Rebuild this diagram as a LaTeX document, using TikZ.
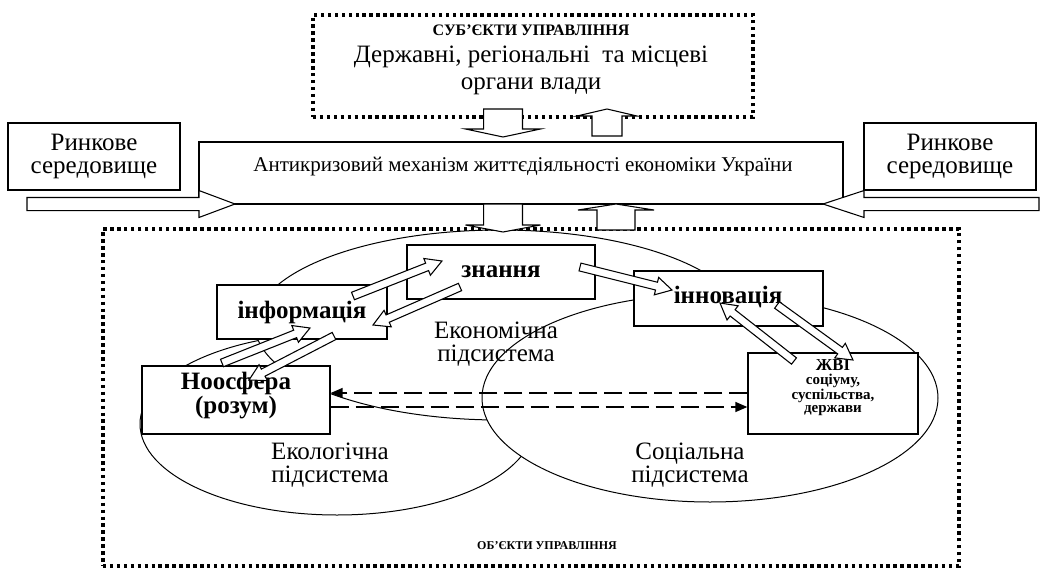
\documentclass[tikz,border=0pt]{standalone}
\usepackage{fontspec}
\setmainfont{Liberation Serif}
\usetikzlibrary{calc,arrows.meta}

% hollow block arrow: #1 tail, #2 tip, #3 shaft half-width, #4 head half-width, #5 head length
\newcommand{\blockarrow}[5]{%
  \coordinate (ba) at ($(#2)!#5!(#1)$);
  \draw[hollowarrow] ($(#1)!#3!90:(#2)$) -- ($(ba)!#3!-90:(#1)$) -- ($(ba)!#4!-90:(#1)$)
    -- (#2) -- ($(ba)!#4!90:(#1)$) -- ($(ba)!#3!90:(#1)$) -- ($(#1)!#3!-90:(#2)$) -- cycle;
}

\tikzset{
  box/.style={draw, line width=1pt, fill=white, rectangle, inner sep=0pt},
  dotframe/.style={draw, line width=2.6pt, dash pattern=on 2.6pt off 2.6pt, rectangle, inner sep=0pt},
  sphere/.style={draw, line width=0.75pt, fill=white},
  hollowarrow/.style={line width=0.8pt, fill=white, draw, line join=miter},
  dasharrow/.style={line width=1.1pt, dash pattern=on 13.5pt off 5.25pt,
    -{Triangle[length=9pt,width=7.5pt]}},
  capsbold/.style={font=\bfseries\fontsize{12}{14}\selectfont, inner sep=0pt},
  toptext/.style={font=\fontsize{18.75}{20.25}\selectfont, align=center, inner sep=0pt},
  midtext/.style={font=\fontsize{15.75}{18}\selectfont, inner sep=0pt},
  market/.style={font=\fontsize{18.75}{17.25}\selectfont, align=center, inner sep=0pt},
  word/.style={font=\bfseries\fontsize{18.75}{18}\selectfont, align=center, inner sep=0pt},
  sublabel/.style={font=\fontsize{18.75}{17.25}\selectfont, align=center, inner sep=0pt},
  smallbold/.style={font=\bfseries\fontsize{11.25}{10.1}\selectfont, align=center, inner sep=0pt}
}

\begin{document}
\begin{tikzpicture}[x=0.75pt, y=-0.75pt]
\useasboundingbox (0,0) rectangle (1040,568);
\fill[white] (0,0) rectangle (1040,568);

% the three subsystems
\draw[sphere] (337,424) ellipse [x radius=197, y radius=91];
\draw[sphere] (500,325) ellipse [x radius=245, y radius=95];
\draw[sphere] (710,398) ellipse [x radius=228, y radius=104];

% frames of the subjects and the objects of management
\node[dotframe, minimum width=642pt, minimum height=252.75pt] (objects) at (531,397.5) {};
\node[dotframe, minimum width=330pt, minimum height=76.5pt] (subjects) at (533,66) {};
\node[capsbold] (subjtitle) at (531,30) {СУБ’ЄКТИ УПРАВЛІННЯ};
\node[toptext] (subjtext) at (531,70) {Державні, регіональні\ \ та місцеві\\органи влади};

% market environment and the anti-crisis mechanism
\node[box, minimum width=129pt, minimum height=50.25pt] (marketL) at (94,156.5) {};
\node[market] (marketLtext) at (94,156) {Ринкове\\середовище};
\node[box, minimum width=129pt, minimum height=50.25pt] (marketR) at (950,156.5) {};
\node[market] (marketRtext) at (950,156) {Ринкове\\середовище};
\node[box, minimum width=483pt, minimum height=46.5pt] (mech) at (521,173) {};
\node[midtext] (mechtext) at (523,167) {Антикризовий механізм життєдіяльності економіки України};

% elements inside the subsystems
\node[box, minimum width=141pt, minimum height=40.5pt] (know) at (501,272) {};
\node[word] (knowtext) at (501,272) {знання};
\node[box, minimum width=127.5pt, minimum height=40.5pt] (info) at (302,312) {};
\node[word] (infotext) at (302,312) {інформація};
\node[box, minimum width=141.75pt, minimum height=41.25pt] (innov) at (728.5,298.5) {};
\node[word] (innovtext) at (728,297) {інновація};
\node[box, minimum width=141pt, minimum height=51pt] (noos) at (236,400) {};
\node[word] (noostext) at (236,396) {Ноосфера\\(розум)};
\node[box, minimum width=127.5pt, minimum height=60.75pt] (zhvi) at (833,393.5) {};
\node[smallbold] (zhvitext) at (833,388) {{\fontsize{12.5}{13}\selectfont ЖВІ}\\соціуму,\\суспільства,\\держави};

% subsystem labels
\node[sublabel] (econlabel) at (496,344) {Економічна\\підсистема};
\node[sublabel] (ecolabel) at (330,465) {Екологічна\\підсистема};
\node[sublabel] (soclabel) at (690,465) {Соціальна\\підсистема};
\node[capsbold, font=\bfseries\fontsize{9}{11}\selectfont] (objtitle) at (547,546) {ОБ’ЄКТИ УПРАВЛІННЯ};

% feedback between the noosphere and the vital activity of society
\coordinate (zup) at ($(zhvi.west)+(0,-0.5)$);
\draw[dasharrow] (zup) -- (zup -| noos.east);
\coordinate (nlow) at ($(noos.east)+(0,7)$);
\draw[dasharrow] (nlow) -- (nlow -| zhvi.west);

% vertical flows
\coordinate (d1t) at (503,109);  \coordinate (d1h) at (503,137);
\coordinate (u1t) at (607,136);  \coordinate (u1h) at (607,109);
\coordinate (d2t) at (503,204);  \coordinate (d2h) at (503,232);
\coordinate (u2t) at (616,230);  \coordinate (u2h) at (616,204);
\blockarrow{d1t}{d1h}{14.6pt}{28.1pt}{6pt}
\blockarrow{u1t}{u1h}{11.25pt}{22.5pt}{5.25pt}
\blockarrow{d2t}{d2h}{14.6pt}{28.1pt}{5.25pt}
\blockarrow{u2t}{u2h}{14.25pt}{28.5pt}{4.5pt}

% market pressure
\coordinate (lt) at (27,204);   \coordinate (lh) at (235,204);
\coordinate (rt) at (1039,204); \coordinate (rh) at (823,204);
\blockarrow{lt}{lh}{4.9pt}{10.1pt}{27pt}
\blockarrow{rt}{rh}{4.9pt}{10.1pt}{30.75pt}

% links between the elements
\coordinate (a1t) at (353,296); \coordinate (a1h) at (442,261);
\coordinate (a2t) at (460,287); \coordinate (a2h) at (373,325);
\coordinate (a3t) at (222,363); \coordinate (a3h) at (310,328);
\coordinate (a4t) at (334,336); \coordinate (a4h) at (249,380);
\coordinate (a5t) at (580,267); \coordinate (a5h) at (672,290);
\coordinate (a6t) at (794,361); \coordinate (a6h) at (720,303);
\coordinate (a7t) at (777,305); \coordinate (a7h) at (853,360);
\blockarrow{a1t}{a1h}{3pt}{6.75pt}{12pt}
\blockarrow{a2t}{a2h}{3pt}{6.75pt}{12pt}
\blockarrow{a3t}{a3h}{3pt}{6.75pt}{12pt}
\blockarrow{a4t}{a4h}{3pt}{6.75pt}{12pt}
\blockarrow{a5t}{a5h}{3pt}{6.75pt}{12pt}
\blockarrow{a6t}{a6h}{3pt}{6.75pt}{12pt}
\blockarrow{a7t}{a7h}{3pt}{6.75pt}{12pt}
\end{tikzpicture}
\end{document}
